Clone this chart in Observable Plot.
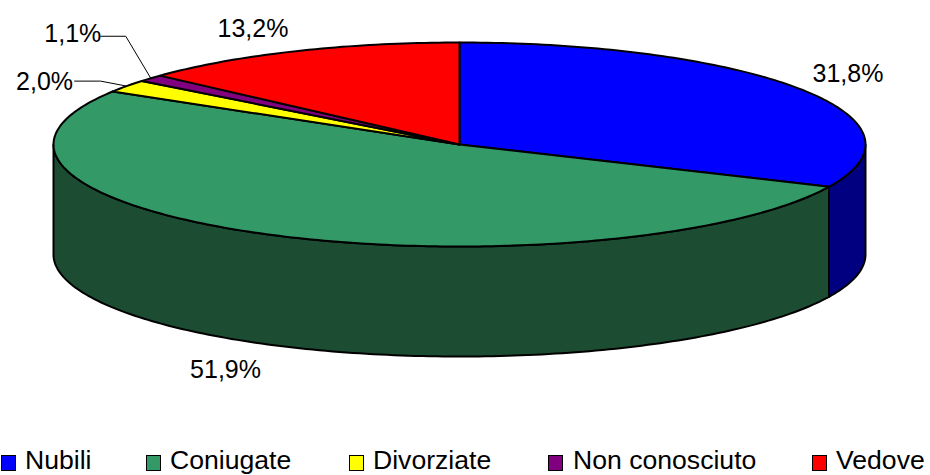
<!DOCTYPE html>
<html>
<head>
<meta charset="utf-8">
<script src="https://cdn.jsdelivr.net/npm/d3@7"></script>
<script src="https://cdn.jsdelivr.net/npm/@observablehq/plot@0.6"></script>
<style>
html,body{margin:0;padding:0;background:#fff;overflow:hidden}
#wrap{position:relative;width:930px;height:475px;font-family:"Liberation Sans",Arial,sans-serif;color:#000}
#legend{position:absolute;left:0;top:445px;width:930px;height:30px;font-size:26.6px;line-height:26px}
#legend .sw{position:absolute;top:10px;width:13.5px;height:13.5px;border:1.5px solid #000;box-sizing:content-box}
#legend .tx{position:absolute;top:2px;height:26px;white-space:nowrap}
</style>
</head>
<body>
<div id="wrap"><div id="chart"></div><div id="legend"></div></div>
<script>
// Data
const categories = ["Nubili", "Coniugate", "Divorziate", "Non conosciuto", "Vedove"];
const percents = [31.8, 51.9, 2.0, 1.1, 13.2];
const topColors = ["#0000ff", "#339966", "#ffff00", "#800080", "#ff0000"];
const wallColors = ["#000080", "#1c4d33", "#808000", "#400040", "#800000"];

// Layout (pixel offsets of labels from the rim at each slice's mid-angle)
const labelDx = [47, -44, -82, -78, -43];
const labelDy = [-15, 135, -4, -44, -22];
const leaderElbows = {2: [[-26, -5], [-52, -5]], 3: [[-25, -42], [-50, -42]]};
const depth = 110 / 102;            // wall height, in units of the minor radius
const legendSwatchX = [0.5, 145.5, 348.5, 547.5, 811.5];
const legendTextX = [25, 170, 373, 573, 836];

const total = d3.sum(percents);
const slices = [];
let acc = 0;
percents.forEach((p, i) => {
  const a0 = acc / total * 360;
  acc += p;
  slices.push({i, a0, a1: acc / total * 360, mid: (a0 + (acc / total * 360)) / 2});
});
const rad = d => d * Math.PI / 180;
const ex = a => Math.sin(rad(a));
const ey = a => Math.cos(rad(a));
function arc(a0, a1) {
  const n = Math.max(2, Math.ceil((a1 - a0)));
  return d3.range(n + 1).map(k => a0 + (a1 - a0) * k / n);
}

// Top faces: center, rim, back to center
const tops = slices.flatMap(s => [
  {id: "t" + s.i, fill: topColors[s.i], x: 0, y: 0},
  ...arc(s.a0, s.a1).map(a => ({id: "t" + s.i, fill: topColors[s.i], x: ex(a), y: ey(a)})),
  {id: "t" + s.i, fill: topColors[s.i], x: 0, y: 0}
]);

// Walls: front half of the rim only (90°..270°)
const walls = slices.flatMap(s => {
  const a0 = Math.max(s.a0, 90), a1 = Math.min(s.a1, 270);
  if (a1 <= a0) return [];
  const rim = arc(a0, a1);
  const pts = [
    ...rim.map(a => ({x: ex(a), y: ey(a)})),
    ...rim.slice().reverse().map(a => ({x: ex(a), y: ey(a) - depth}))
  ];
  pts.push(pts[0]);
  return pts.map(p => ({...p, id: "w" + s.i, fill: wallColors[s.i]}));
});

const fmt = v => v.toFixed(1).replace(".", ",") + "%";
const labels = slices.map(s => ({
  x: ex(s.mid), y: ey(s.mid), text: fmt(percents[s.i]),
  dx: labelDx[s.i], dy: labelDy[s.i]
}));

// Leader lines as separate marks, anchored at the rim with pixel offsets per vertex
const leaderMarks = Object.entries(leaderElbows).map(([k, el]) => {
  const s = slices[+k];
  const sx = 812 / 2, sy = 204 / 2;
  const px = ex(s.mid), py = ey(s.mid);
  const pts = [{x: px, y: py}, ...el.map(([dx, dy]) => ({x: px + dx / sx, y: py - dy / sy}))];
  return Plot.line(pts, {x: "x", y: "y", stroke: "#000", strokeWidth: 1, curve: "linear"});
});

const plot = Plot.plot({
  width: 930,
  height: 445,
  margin: 0,
  style: {background: "#fff", overflow: "visible"},
  x: {domain: [-1, 1], range: [53, 865], axis: null},
  y: {domain: [-1, 1], range: [246, 42], axis: null},
  color: {type: "identity"},
  marks: [
    Plot.line(walls, {x: "x", y: "y", z: "id", fill: "fill", stroke: "#000", strokeWidth: 2, curve: "linear"}),
    Plot.line(tops, {x: "x", y: "y", z: "id", fill: "fill", stroke: "#000", strokeWidth: 2, curve: "linear"}),
    ...leaderMarks,
    ...labels.map(l => Plot.text([l], {
      x: "x", y: "y", text: "text", dx: l.dx, dy: l.dy,
      fontSize: 25, fontFamily: "Liberation Sans", fill: "#000", textAnchor: "middle"
    }))
  ]
});
document.getElementById("chart").appendChild(plot);
plot.style.display = "block";

const legend = d3.select("#legend");
categories.forEach((c, i) => {
  legend.append("span").attr("class", "sw").style("left", legendSwatchX[i] + "px").style("background", topColors[i]);
  legend.append("span").attr("class", "tx").style("left", legendTextX[i] + "px").text(c);
});
</script>
</body>
</html>
